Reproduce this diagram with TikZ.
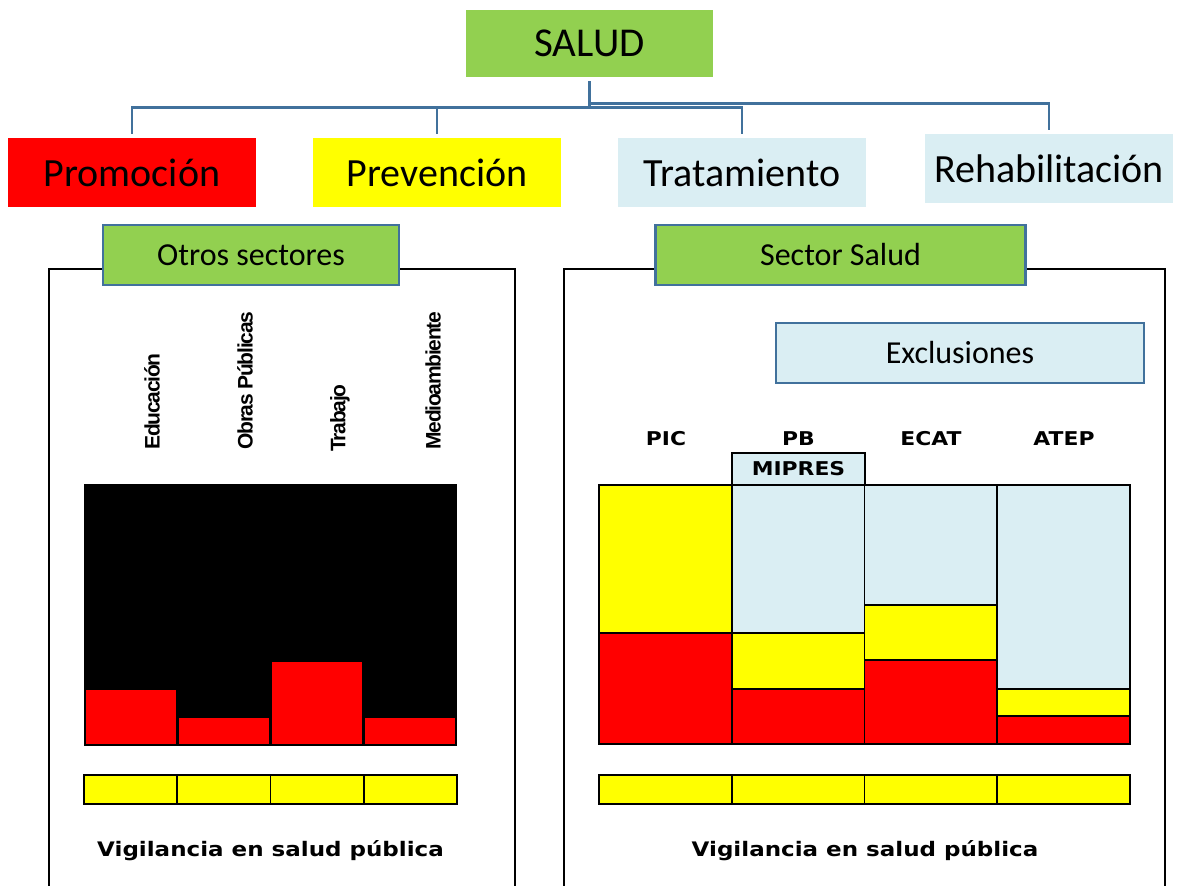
\documentclass[tikz,border=0pt]{standalone}
\usepackage{fontspec}
\setmainfont{Carlito}
\newfontfamily\negrita{DejaVu Sans}[FakeStretch=1.15]
\newfontfamily\arialfam{Liberation Sans}[LetterSpace=-6]
\usetikzlibrary{trees,positioning}
\definecolor{verde}{HTML}{92D050}
\definecolor{rojo}{HTML}{FF0000}
\definecolor{amarillo}{HTML}{FFFF00}
\definecolor{celeste}{HTML}{DAEEF3}
\definecolor{azul}{HTML}{41719C}

\begin{document}
\begin{tikzpicture}[
                      x = 0.5pt,
                      y = -0.5pt,
                   grow = down,
edge from parent/.style = {draw=azul, line width=1.3pt},
  edge from parent path = {(\tikzparentnode.south) ++(0,-2pt)
                           |- ([yshift=15pt]\tikzchildnode.north)
                           -- ([yshift=2pt]\tikzchildnode.north)},
         level distance = 64.5pt,
       sibling distance = 152.5pt,
            caja/.style = {minimum width=124pt, minimum height=34.5pt, inner sep=0pt,
                           font=\fontsize{20}{24}\selectfont},
          sector/.style = {draw=azul, line width=1.2pt, minimum height=30pt, inner sep=0pt,
                           font=\fontsize{16}{19}\selectfont},
          rotulo/.style = {rotate=90, anchor=west, inner sep=0pt,
                           font=\arialfam\bfseries\fontsize{10.5}{12}\selectfont},
           etiq/.style = {font=\negrita\bfseries\fontsize{9.5}{11}\selectfont},
            vsp/.style = {font=\negrita\bfseries\fontsize{10}{12}\selectfont},
           marco/.style = {draw=black, line width=1.2pt},
           barra/.style = {draw=black, line width=0.8pt},
                     ]
\useasboundingbox (0,0) rectangle (1178,886);

\node[caja, fill=verde, minimum width=123.5pt, minimum height=33.5pt,
      font=\fontsize{20.5}{24}\selectfont] (salud) at (589.5,43.5) {SALUD}
    child {node[caja, fill=rojo] (promocion) {Promoción}}
    child {node[caja, fill=amarillo] (prevencion) {Prevención}}
    child {node[caja, fill=celeste] (tratamiento) {Tratamiento}}
    child {node[caja, fill=celeste, xshift=1pt, yshift=2pt] (rehab) {Rehabilitación}};

% marcos de los dos sectores
\draw[marco] (49,886) |- (515,269) -- (515,886);
\draw[marco] (564,886) |- (1165,269) -- (1165,886);
\node[sector, fill=verde, minimum width=148pt] (otros) at (251,255) {Otros sectores};
\node[sector, fill=verde, minimum width=185pt] (ssalud) at (840.5,255) {Sector Salud};
\node[sector, fill=celeste, minimum width=184pt] (excl) at (960,353) {Exclusiones};

% otros sectores
\node[rotulo] (educ) at (152,450) {Educación};
\node[rotulo] (obras) at (245,450) {Obras Públicas};
\node[rotulo] (trab) at (340,452) {Trabajo};
\node[rotulo] (medio) at (433,450) {Medioambiente};
\fill[black] (84,484) rectangle (457,745);
\foreach \x/\h in {85/689,178/717,271/661,364/717}
    \filldraw[fill=rojo, draw=black, line width=0.6pt] (\x,\h) rectangle ++(92,745-\h);
\foreach \x in {84,177.25,270.5,363.75}
    \filldraw[fill=amarillo, barra] (\x,775) rectangle ++(93.25,29);
\node[vsp] (vig1) at (270.5,851) {Vigilancia en salud pública};

% sector salud
\node[etiq] (pic) at (666,439) {PIC};
\node[etiq] (pb) at (798.5,439) {PB};
\node[etiq] (ecat) at (931,439) {ECAT};
\node[etiq] (atep) at (1064,439) {ATEP};
\node[etiq, draw=black, line width=1.2pt, fill=celeste, minimum width=66.5pt,
      minimum height=16pt, inner sep=0pt] (mipres) at (798.5,469) {MIPRES};
\foreach \x/\a/\b in {599/485/633,731.75/633/689,864.5/605/660,997.25/689/716}{
    \filldraw[fill=celeste, barra] (\x,485) rectangle ++(132.75,\a-485);
    \filldraw[fill=amarillo, barra] (\x,\a) rectangle ++(132.75,\b-\a);
    \filldraw[fill=rojo, barra] (\x,\b) rectangle ++(132.75,744-\b);
}
\draw[line width=1.3pt] (599,485) rectangle (1130,744);
\foreach \x in {599,731.75,864.5,997.25}
    \filldraw[fill=amarillo, barra] (\x,775) rectangle ++(132.75,29);
\node[vsp] (vig2) at (865,851) {Vigilancia en salud pública};
\end{tikzpicture}
\end{document}
